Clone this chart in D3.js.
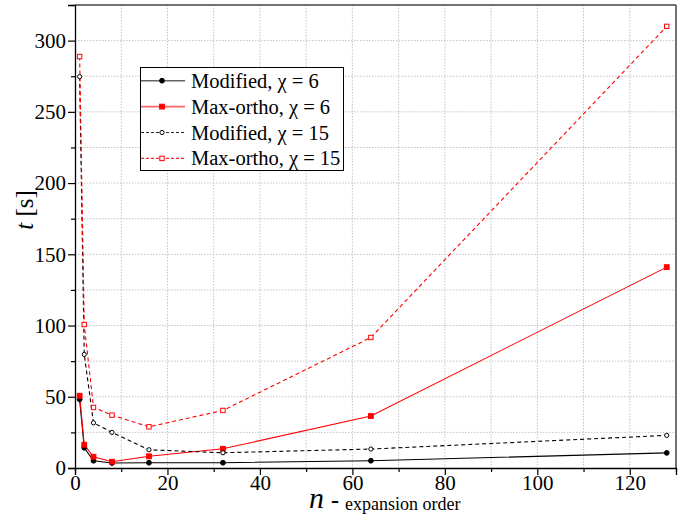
<!DOCTYPE html>
<html>
<head>
<meta charset="utf-8">
<script src="https://cdn.jsdelivr.net/npm/d3@7"></script>
<style>
  html, body { margin: 0; padding: 0; background: #fff; }
  svg { display: block; }
</style>
</head>
<body>
<svg id="chart" width="696" height="515"></svg>
<script>
// ---- data ----
const orders = [1, 2, 4, 8, 16, 32, 64, 128];
const modified6 = [48.2, 14.2, 5.1, 3.5, 3.7, 3.7, 5.1, 10.6];
const maxOrtho6 = [50.7, 16.3, 7.9, 4.4, 8.2, 13.5, 36.5, 141];
const modified15 = [274.7, 79.7, 31.7, 25.0, 12.8, 10.7, 13.3, 22.9];
const maxOrtho15 = [288.8, 100.7, 42.5, 37.1, 28.9, 40.4, 91.6, 310];
const seriesNames = ["Modified, \u03C7 = 6", "Max-ortho, \u03C7 = 6", "Modified, \u03C7 = 15", "Max-ortho, \u03C7 = 15"];
const xMajorTicks = [0, 20, 40, 60, 80, 100, 120];
const yMajorTicks = [0, 50, 100, 150, 200, 250, 300];

const FONT = "'Liberation Serif', 'DejaVu Serif', serif";

const series = [
  { name: seriesNames[0], values: modified6,  color: "#000", dash: null,  marker: "circle", filled: true },
  { name: seriesNames[1], values: maxOrtho6,  color: "#f00", dash: null,  marker: "square", filled: true },
  { name: seriesNames[2], values: modified15, color: "#000", dash: "4,3", marker: "circle", filled: false },
  { name: seriesNames[3], values: maxOrtho15, color: "#f00", dash: "4,3", marker: "square", filled: false }
];

const svg = d3.select("#chart").attr("font-family", FONT).style("font-family", FONT);
const L = 75, R = 676, T = 5, B = 468;
const x = d3.scaleLinear().domain([0, 130]).range([L, R]);
const y = d3.scaleLinear().domain([0, 325]).range([B, T]);

// grid
const gx = d3.range(10, 130, 10), gy = d3.range(25, 325, 25);
svg.append("g").selectAll("line").data(gx).join("line")
  .attr("x1", d => x(d)).attr("x2", d => x(d)).attr("y1", T).attr("y2", B)
  .attr("stroke", "#c4c4c4").attr("stroke-width", 1).attr("stroke-dasharray", "1.5,1.5");
svg.append("g").selectAll("line").data(gy).join("line")
  .attr("y1", d => y(d)).attr("y2", d => y(d)).attr("x1", L).attr("x2", R)
  .attr("stroke", "#c4c4c4").attr("stroke-width", 1).attr("stroke-dasharray", "1.5,1.5");

// frame top/right
svg.append("line").attr("x1", L).attr("x2", R).attr("y1", T).attr("y2", T)
  .attr("stroke", "#444").attr("stroke-width", 1.5);
svg.append("line").attr("x1", R).attr("x2", R).attr("y1", T).attr("y2", B)
  .attr("stroke", "#444").attr("stroke-width", 1.5);

// axes
svg.append("g").attr("transform", `translate(0,${B})`)
  .call(d3.axisBottom(x).tickValues(xMajorTicks).tickSize(7).tickPadding(0).tickFormat(d3.format("d")));
svg.append("g").attr("transform", `translate(0,${B})`)
  .call(d3.axisBottom(x).tickValues(d3.range(10, 140, 20)).tickSize(4).tickFormat(""))
  .select(".domain").remove();
svg.append("g").attr("transform", `translate(${L},0)`)
  .call(d3.axisLeft(y).tickValues(yMajorTicks).tickSize(7).tickPadding(2).tickFormat(d3.format("d")));
svg.append("g").attr("transform", `translate(${L},0)`)
  .call(d3.axisLeft(y).tickValues(d3.range(25, 350, 50)).tickSize(4).tickFormat(""))
  .select(".domain").remove();
svg.selectAll("g").attr("font-family", FONT);
svg.selectAll(".tick text").attr("font-family", FONT).style("font-family", FONT).style("font-size", "21px");
svg.selectAll(".domain").attr("stroke-width", 1.3);
svg.selectAll(".tick line").attr("stroke-width", 1.2);

// lines and markers
const line = d3.line().x((d, i) => x(orders[i])).y(d => y(d));
series.forEach(s => {
  svg.append("path").datum(s.values).attr("d", line)
    .attr("fill", "none").attr("stroke", s.color).attr("stroke-width", 1.1)
    .attr("stroke-dasharray", s.dash);
});
function drawMarker(g, s, cx, cy) {
  if (s.marker === "circle") {
    g.append("circle").attr("cx", cx).attr("cy", cy).attr("r", s.filled ? 2.4 : 2.1)
      .attr("fill", s.filled ? s.color : "#fff").attr("stroke", s.color).attr("stroke-width", 1);
  } else {
    const h = s.filled ? 2.4 : 2.2;
    g.append("rect").attr("x", cx - h).attr("y", cy - h).attr("width", 2 * h).attr("height", 2 * h)
      .attr("fill", s.filled ? s.color : "#fff").attr("stroke", s.color).attr("stroke-width", 1);
  }
}
series.forEach(s => {
  const g = svg.append("g");
  s.values.forEach((v, i) => drawMarker(g, s, x(orders[i]), y(v)));
});

// legend
const lg = svg.append("g");
lg.append("rect").attr("x", 140.5).attr("y", 67.5).attr("width", 203).attr("height", 103)
  .attr("fill", "#fff").attr("stroke", "#000").attr("stroke-width", 1);
series.forEach((s, i) => {
  const cy = 80.7 + i * 25.9;
  lg.append("line").attr("x1", 141).attr("x2", 185).attr("y1", cy).attr("y2", cy)
    .attr("stroke", s.color).attr("stroke-width", s.dash ? 1.1 : 1.6)
    .attr("stroke-opacity", s.dash ? 0.85 : 0.6)
    .attr("stroke-dasharray", s.dash ? "3,2" : null);
  drawMarker(lg, s, 162, cy);
  lg.append("text").attr("x", 191).attr("y", cy + 7)
    .style("font-family", FONT).style("font-size", "20.5px").text(s.name);
});

// axis titles
const yt = svg.append("text").attr("transform", "translate(33,210) rotate(-90)")
  .attr("text-anchor", "middle").style("font-family", FONT).style("font-size", "25px");
yt.append("tspan").style("font-style", "italic").text("t");
yt.append("tspan").text(" [s]");

svg.append("text").attr("x", 309).attr("y", 508).style("font-family", FONT)
  .style("font-style", "italic").style("font-size", "30px").text("n");
svg.append("text").attr("x", 331).attr("y", 508).style("font-family", FONT)
  .style("font-weight", "bold").style("font-size", "24px").text("-");
svg.append("text").attr("x", 345).attr("y", 510).style("font-family", FONT)
  .style("font-size", "18px").text("expansion order");
</script>
</body>
</html>
